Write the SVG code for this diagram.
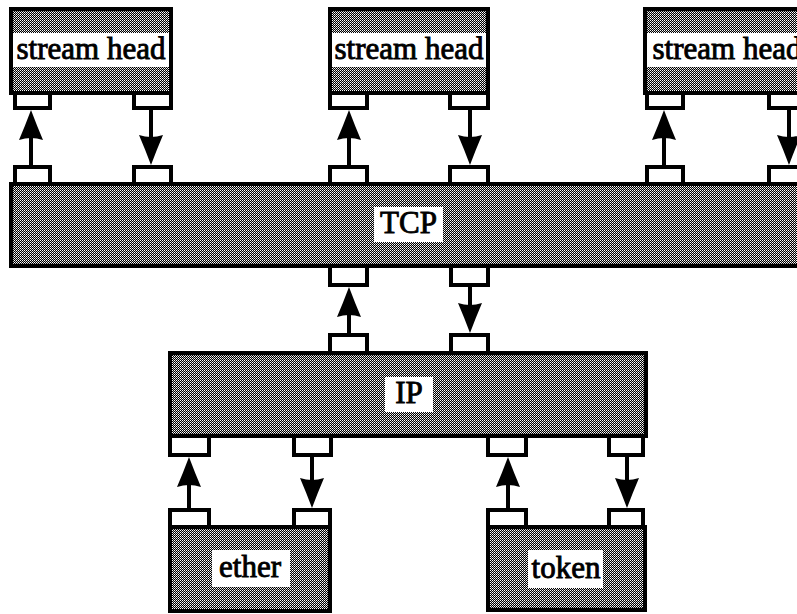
<svg xmlns="http://www.w3.org/2000/svg" width="797" height="614" viewBox="0 0 797 614">
<style>
.box{fill:url(#dither);stroke:#000;stroke-width:4}
.port{fill:#fff;stroke:#000;stroke-width:4}
.lab{fill:#fff;stroke:none}
.txt{font-family:"Liberation Serif","Times New Roman",serif;font-size:31px;fill:#000;stroke:#000;stroke-width:0.9;text-anchor:middle}
.conn{stroke:#000;stroke-width:4;fill:none;marker-end:url(#head)}
</style>
<defs>
<pattern id="dither" x="0" y="0" width="2" height="2" patternUnits="userSpaceOnUse">
<rect width="2" height="2" fill="#000"/>
<rect x="0" y="0" width="1" height="1" fill="#fff"/>
<rect x="1" y="1" width="1" height="1" fill="#bbb"/>
</pattern>
<marker id="head" markerUnits="userSpaceOnUse" markerWidth="40" markerHeight="30" refX="4" refY="0" viewBox="0 -15 40 30" orient="auto" overflow="visible">
<path d="M0,-12 Q14,-6 30,0 Q14,6 0,12 Q4,0 0,-12 Z" fill="#000"/>
</marker>
</defs>
<rect width="797" height="614" fill="#fff"/>

<g id="sh1">
<rect class="box" x="11" y="9" width="160" height="84"/>
<rect class="lab" x="13" y="33" width="156" height="34"/>
<text class="txt" x="91" y="59">stream head</text>
<rect class="port" x="15" y="93" width="35" height="15"/>
<rect class="port" x="134" y="93" width="37" height="15"/>
</g>

<g id="sh2">
<rect class="box" x="330" y="9" width="158" height="84"/>
<rect class="lab" x="332" y="33" width="154" height="34"/>
<text class="txt" x="409" y="59">stream head</text>
<rect class="port" x="330" y="93" width="37" height="15"/>
<rect class="port" x="450" y="93" width="38" height="15"/>
</g>

<g id="sh3">
<rect class="box" x="645" y="9" width="170" height="84"/>
<rect class="lab" x="647" y="33" width="166" height="34"/>
<text class="txt" x="727" y="59">stream head</text>
<rect class="port" x="647" y="93" width="36" height="15"/>
<rect class="port" x="769" y="93" width="38" height="15"/>
</g>

<g id="tcp">
<rect class="box" x="11" y="184" width="810" height="82"/>
<rect class="lab" x="374" y="207" width="69" height="35"/>
<text class="txt" x="408.5" y="233">TCP</text>
<rect class="port" x="15" y="167" width="35" height="17"/>
<rect class="port" x="134" y="167" width="37" height="17"/>
<rect class="port" x="330" y="167" width="37" height="17"/>
<rect class="port" x="450" y="167" width="38" height="17"/>
<rect class="port" x="647" y="167" width="36" height="17"/>
<rect class="port" x="769" y="167" width="38" height="17"/>
<rect class="port" x="330" y="266" width="37" height="19"/>
<rect class="port" x="451" y="266" width="37" height="19"/>
</g>

<g id="ip">
<rect class="box" x="170" y="353" width="476" height="83"/>
<rect class="lab" x="385" y="377" width="48" height="35"/>
<text class="txt" x="409" y="403">IP</text>
<rect class="port" x="330" y="335" width="37" height="18"/>
<rect class="port" x="451" y="335" width="37" height="18"/>
<rect class="port" x="170" y="436" width="39" height="19"/>
<rect class="port" x="294" y="436" width="37" height="19"/>
<rect class="port" x="488" y="436" width="38" height="19"/>
<rect class="port" x="609" y="436" width="34" height="19"/>
</g>

<g id="ether">
<rect class="box" x="170" y="527" width="160" height="84"/>
<rect class="lab" x="212" y="550" width="78" height="37"/>
<text class="txt" x="250" y="577">ether</text>
<rect class="port" x="170" y="510" width="39" height="17"/>
<rect class="port" x="294" y="510" width="36" height="17"/>
</g>

<g id="token">
<rect class="box" x="488" y="527" width="157" height="83"/>
<rect class="lab" x="528" y="550" width="75" height="38"/>
<text class="txt" x="566" y="578">token</text>
<rect class="port" x="488" y="510" width="38" height="17"/>
<rect class="port" x="609" y="510" width="34" height="17"/>
</g>

<g id="connectors">
<path class="conn" d="M31,165 V136"/>
<path class="conn" d="M151,110 V139"/>
<path class="conn" d="M349,165 V136"/>
<path class="conn" d="M470,110 V139"/>
<path class="conn" d="M664,165 V136"/>
<path class="conn" d="M789,110 V139"/>
<path class="conn" d="M349,333 V313"/>
<path class="conn" d="M470,287 V307"/>
<path class="conn" d="M189,508 V483"/>
<path class="conn" d="M312,457 V482"/>
<path class="conn" d="M508,508 V483"/>
<path class="conn" d="M627,457 V482"/>
</g>
</svg>
